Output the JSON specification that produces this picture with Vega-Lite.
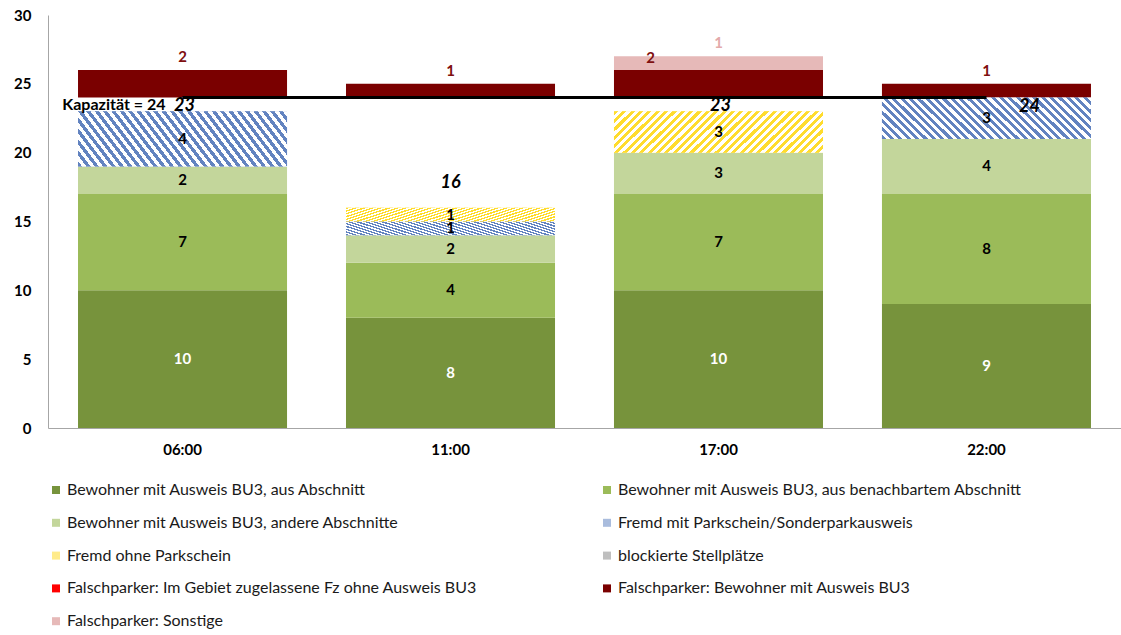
{
"$schema":"https://vega.github.io/schema/vega-lite/v6.json",
"width":1073,"height":413,
"autosize":{"type":"none"},
"padding":{"left":48,"top":15,"right":0,"bottom":207},
"config":{"view":{"stroke":null},"font":"Lato",
 "axis":{"grid":false,"ticks":false,"domainColor":"#A6A6A6","domainWidth":1,"labelFont":"Lato","labelFontSize":15,"labelFontWeight":"bold","labelColor":"#000000","title":null},
 "axisY":{"tickCount":6,"labelPadding":17}},
"datasets":{
 "occ":[
  {"time":"06:00","cat":"Bewohner mit Ausweis BU3, aus Abschnitt","order":1,"n":10},
  {"time":"06:00","cat":"Bewohner mit Ausweis BU3, aus benachbartem Abschnitt","order":2,"n":7},
  {"time":"06:00","cat":"Bewohner mit Ausweis BU3, andere Abschnitte","order":3,"n":2},
  {"time":"06:00","cat":"Fremd mit Parkschein/Sonderparkausweis","order":4,"n":4},
  {"time":"06:00","cat":"Fremd ohne Parkschein","order":5,"n":0},
  {"time":"06:00","cat":"blockierte Stellplätze","order":6,"n":0},
  {"time":"06:00","cat":"frei","order":7,"n":1},
  {"time":"06:00","cat":"Falschparker: Im Gebiet zugelassene Fz ohne Ausweis BU3","order":8,"n":0},
  {"time":"06:00","cat":"Falschparker: Bewohner mit Ausweis BU3","order":9,"n":2},
  {"time":"06:00","cat":"Falschparker: Sonstige","order":10,"n":0},
  {"time":"11:00","cat":"Bewohner mit Ausweis BU3, aus Abschnitt","order":1,"n":8},
  {"time":"11:00","cat":"Bewohner mit Ausweis BU3, aus benachbartem Abschnitt","order":2,"n":4},
  {"time":"11:00","cat":"Bewohner mit Ausweis BU3, andere Abschnitte","order":3,"n":2},
  {"time":"11:00","cat":"Fremd mit Parkschein/Sonderparkausweis","order":4,"n":1},
  {"time":"11:00","cat":"Fremd ohne Parkschein","order":5,"n":1},
  {"time":"11:00","cat":"blockierte Stellplätze","order":6,"n":0},
  {"time":"11:00","cat":"frei","order":7,"n":8},
  {"time":"11:00","cat":"Falschparker: Im Gebiet zugelassene Fz ohne Ausweis BU3","order":8,"n":0},
  {"time":"11:00","cat":"Falschparker: Bewohner mit Ausweis BU3","order":9,"n":1},
  {"time":"11:00","cat":"Falschparker: Sonstige","order":10,"n":0},
  {"time":"17:00","cat":"Bewohner mit Ausweis BU3, aus Abschnitt","order":1,"n":10},
  {"time":"17:00","cat":"Bewohner mit Ausweis BU3, aus benachbartem Abschnitt","order":2,"n":7},
  {"time":"17:00","cat":"Bewohner mit Ausweis BU3, andere Abschnitte","order":3,"n":3},
  {"time":"17:00","cat":"Fremd mit Parkschein/Sonderparkausweis","order":4,"n":0},
  {"time":"17:00","cat":"Fremd ohne Parkschein","order":5,"n":3},
  {"time":"17:00","cat":"blockierte Stellplätze","order":6,"n":0},
  {"time":"17:00","cat":"frei","order":7,"n":1},
  {"time":"17:00","cat":"Falschparker: Im Gebiet zugelassene Fz ohne Ausweis BU3","order":8,"n":0},
  {"time":"17:00","cat":"Falschparker: Bewohner mit Ausweis BU3","order":9,"n":2},
  {"time":"17:00","cat":"Falschparker: Sonstige","order":10,"n":1},
  {"time":"22:00","cat":"Bewohner mit Ausweis BU3, aus Abschnitt","order":1,"n":9},
  {"time":"22:00","cat":"Bewohner mit Ausweis BU3, aus benachbartem Abschnitt","order":2,"n":8},
  {"time":"22:00","cat":"Bewohner mit Ausweis BU3, andere Abschnitte","order":3,"n":4},
  {"time":"22:00","cat":"Fremd mit Parkschein/Sonderparkausweis","order":4,"n":3},
  {"time":"22:00","cat":"Fremd ohne Parkschein","order":5,"n":0},
  {"time":"22:00","cat":"blockierte Stellplätze","order":6,"n":0},
  {"time":"22:00","cat":"frei","order":7,"n":0},
  {"time":"22:00","cat":"Falschparker: Im Gebiet zugelassene Fz ohne Ausweis BU3","order":8,"n":0},
  {"time":"22:00","cat":"Falschparker: Bewohner mit Ausweis BU3","order":9,"n":1},
  {"time":"22:00","cat":"Falschparker: Sonstige","order":10,"n":0}
 ],
 "cap":[
  {"time":"06:00","cap":24,"label":"Kapazität = 24"},
  {"time":"11:00","cap":24},
  {"time":"17:00","cap":24},
  {"time":"22:00","cap":24}
 ]
},
"data":{"name":"occ"},
"encoding":{"x":{"field":"time","type":"nominal","sort":["06:00","11:00","17:00","22:00"],"scale":{"type":"band","paddingInner":0.22,"paddingOuter":0.112},"axis":{"labelAngle":0,"labelPadding":14,"title":null}}},
"layer":[
 {"transform":[{"stack":"n","groupby":["time"],"sort":[{"field":"order","order":"ascending"}],"as":["y0","y1"]},{"filter":"datum.n > 0"}],
  "layer":[
   {"transform":[{"filter":"datum.cat !== 'frei'"}],
    "mark":{"type":"bar"},
    "encoding":{
     "y":{"field":"y0","type":"quantitative","scale":{"domain":[0,30],"nice":false}},
     "y2":{"field":"y1"},
     "color":{"field":"cat","type":"nominal",
      "scale":{"domain":["Bewohner mit Ausweis BU3, aus Abschnitt","Bewohner mit Ausweis BU3, andere Abschnitte","Fremd ohne Parkschein","Falschparker: Im Gebiet zugelassene Fz ohne Ausweis BU3","Falschparker: Sonstige","Bewohner mit Ausweis BU3, aus benachbartem Abschnitt","Fremd mit Parkschein/Sonderparkausweis","blockierte Stellplätze","Falschparker: Bewohner mit Ausweis BU3"],
       "range":["#77933C","#C3D69B","#FFEB8A","#FF0000","#E6B9B8","#9BBB59","#A9BCDD","#BFBFBF","#7A0000"]},
      "legend":{"orient":"none","legendX":0,"legendY":467,"columns":2,"title":null,"symbolType":"square","symbolSize":64,"symbolStrokeWidth":0,"labelFontSize":16,"labelFont":"Lato","labelColor":"#1a1a1a","labelLimit":700,"rowPadding":16.8,"columnPadding":122,"labelOffset":3,"padding":0}}
    }},
   {"transform":[{"filter":"datum.order === 4"}],
    "mark":{"type":"bar","fill":{"gradient":"linear","x1":0,"y1":1,"x2":1.154,"y2":0.769,"stops":[
{"offset":0,"color":"#6283C0"},
{"offset":0.0167,"color":"#6283C0"},{"offset":0.0167,"color":"#ffffff"},
{"offset":0.0333,"color":"#ffffff"},{"offset":0.0333,"color":"#6283C0"},
{"offset":0.05,"color":"#6283C0"},{"offset":0.05,"color":"#ffffff"},
{"offset":0.0667,"color":"#ffffff"},{"offset":0.0667,"color":"#6283C0"},
{"offset":0.0833,"color":"#6283C0"},{"offset":0.0833,"color":"#ffffff"},
{"offset":0.1,"color":"#ffffff"},{"offset":0.1,"color":"#6283C0"},
{"offset":0.1167,"color":"#6283C0"},{"offset":0.1167,"color":"#ffffff"},
{"offset":0.1333,"color":"#ffffff"},{"offset":0.1333,"color":"#6283C0"},
{"offset":0.15,"color":"#6283C0"},{"offset":0.15,"color":"#ffffff"},
{"offset":0.1667,"color":"#ffffff"},{"offset":0.1667,"color":"#6283C0"},
{"offset":0.1833,"color":"#6283C0"},{"offset":0.1833,"color":"#ffffff"},
{"offset":0.2,"color":"#ffffff"},{"offset":0.2,"color":"#6283C0"},
{"offset":0.2167,"color":"#6283C0"},{"offset":0.2167,"color":"#ffffff"},
{"offset":0.2333,"color":"#ffffff"},{"offset":0.2333,"color":"#6283C0"},
{"offset":0.25,"color":"#6283C0"},{"offset":0.25,"color":"#ffffff"},
{"offset":0.2667,"color":"#ffffff"},{"offset":0.2667,"color":"#6283C0"},
{"offset":0.2833,"color":"#6283C0"},{"offset":0.2833,"color":"#ffffff"},
{"offset":0.3,"color":"#ffffff"},{"offset":0.3,"color":"#6283C0"},
{"offset":0.3167,"color":"#6283C0"},{"offset":0.3167,"color":"#ffffff"},
{"offset":0.3333,"color":"#ffffff"},{"offset":0.3333,"color":"#6283C0"},
{"offset":0.35,"color":"#6283C0"},{"offset":0.35,"color":"#ffffff"},
{"offset":0.3667,"color":"#ffffff"},{"offset":0.3667,"color":"#6283C0"},
{"offset":0.3833,"color":"#6283C0"},{"offset":0.3833,"color":"#ffffff"},
{"offset":0.4,"color":"#ffffff"},{"offset":0.4,"color":"#6283C0"},
{"offset":0.4167,"color":"#6283C0"},{"offset":0.4167,"color":"#ffffff"},
{"offset":0.4333,"color":"#ffffff"},{"offset":0.4333,"color":"#6283C0"},
{"offset":0.45,"color":"#6283C0"},{"offset":0.45,"color":"#ffffff"},
{"offset":0.4667,"color":"#ffffff"},{"offset":0.4667,"color":"#6283C0"},
{"offset":0.4833,"color":"#6283C0"},{"offset":0.4833,"color":"#ffffff"},
{"offset":0.5,"color":"#ffffff"},{"offset":0.5,"color":"#6283C0"},
{"offset":0.5167,"color":"#6283C0"},{"offset":0.5167,"color":"#ffffff"},
{"offset":0.5333,"color":"#ffffff"},{"offset":0.5333,"color":"#6283C0"},
{"offset":0.55,"color":"#6283C0"},{"offset":0.55,"color":"#ffffff"},
{"offset":0.5667,"color":"#ffffff"},{"offset":0.5667,"color":"#6283C0"},
{"offset":0.5833,"color":"#6283C0"},{"offset":0.5833,"color":"#ffffff"},
{"offset":0.6,"color":"#ffffff"},{"offset":0.6,"color":"#6283C0"},
{"offset":0.6167,"color":"#6283C0"},{"offset":0.6167,"color":"#ffffff"},
{"offset":0.6333,"color":"#ffffff"},{"offset":0.6333,"color":"#6283C0"},
{"offset":0.65,"color":"#6283C0"},{"offset":0.65,"color":"#ffffff"},
{"offset":0.6667,"color":"#ffffff"},{"offset":0.6667,"color":"#6283C0"},
{"offset":0.6833,"color":"#6283C0"},{"offset":0.6833,"color":"#ffffff"},
{"offset":0.7,"color":"#ffffff"},{"offset":0.7,"color":"#6283C0"},
{"offset":0.7167,"color":"#6283C0"},{"offset":0.7167,"color":"#ffffff"},
{"offset":0.7333,"color":"#ffffff"},{"offset":0.7333,"color":"#6283C0"},
{"offset":0.75,"color":"#6283C0"},{"offset":0.75,"color":"#ffffff"},
{"offset":0.7667,"color":"#ffffff"},{"offset":0.7667,"color":"#6283C0"},
{"offset":0.7833,"color":"#6283C0"},{"offset":0.7833,"color":"#ffffff"},
{"offset":0.8,"color":"#ffffff"},{"offset":0.8,"color":"#6283C0"},
{"offset":0.8167,"color":"#6283C0"},{"offset":0.8167,"color":"#ffffff"},
{"offset":0.8333,"color":"#ffffff"},{"offset":0.8333,"color":"#6283C0"},
{"offset":0.85,"color":"#6283C0"},{"offset":0.85,"color":"#ffffff"},
{"offset":0.8667,"color":"#ffffff"},{"offset":0.8667,"color":"#6283C0"},
{"offset":0.8833,"color":"#6283C0"},{"offset":0.8833,"color":"#ffffff"},
{"offset":0.9,"color":"#ffffff"},{"offset":0.9,"color":"#6283C0"},
{"offset":0.9167,"color":"#6283C0"},{"offset":0.9167,"color":"#ffffff"},
{"offset":0.9333,"color":"#ffffff"},{"offset":0.9333,"color":"#6283C0"},
{"offset":0.95,"color":"#6283C0"},{"offset":0.95,"color":"#ffffff"},
{"offset":0.9667,"color":"#ffffff"},{"offset":0.9667,"color":"#6283C0"},
{"offset":0.9833,"color":"#6283C0"},{"offset":0.9833,"color":"#ffffff"},
{"offset":1,"color":"#ffffff"}]}},
    "encoding":{"y":{"field":"y0","type":"quantitative"},"y2":{"field":"y1"}}},
   {"transform":[{"filter":"datum.order === 5"}],
    "mark":{"type":"bar","fill":{"gradient":"linear","x1":0,"y1":0,"x2":1.154,"y2":0.231,"stops":[
{"offset":0,"color":"#FFDC2E"},
{"offset":0.0167,"color":"#FFDC2E"},{"offset":0.0167,"color":"#ffffff"},
{"offset":0.0333,"color":"#ffffff"},{"offset":0.0333,"color":"#FFDC2E"},
{"offset":0.05,"color":"#FFDC2E"},{"offset":0.05,"color":"#ffffff"},
{"offset":0.0667,"color":"#ffffff"},{"offset":0.0667,"color":"#FFDC2E"},
{"offset":0.0833,"color":"#FFDC2E"},{"offset":0.0833,"color":"#ffffff"},
{"offset":0.1,"color":"#ffffff"},{"offset":0.1,"color":"#FFDC2E"},
{"offset":0.1167,"color":"#FFDC2E"},{"offset":0.1167,"color":"#ffffff"},
{"offset":0.1333,"color":"#ffffff"},{"offset":0.1333,"color":"#FFDC2E"},
{"offset":0.15,"color":"#FFDC2E"},{"offset":0.15,"color":"#ffffff"},
{"offset":0.1667,"color":"#ffffff"},{"offset":0.1667,"color":"#FFDC2E"},
{"offset":0.1833,"color":"#FFDC2E"},{"offset":0.1833,"color":"#ffffff"},
{"offset":0.2,"color":"#ffffff"},{"offset":0.2,"color":"#FFDC2E"},
{"offset":0.2167,"color":"#FFDC2E"},{"offset":0.2167,"color":"#ffffff"},
{"offset":0.2333,"color":"#ffffff"},{"offset":0.2333,"color":"#FFDC2E"},
{"offset":0.25,"color":"#FFDC2E"},{"offset":0.25,"color":"#ffffff"},
{"offset":0.2667,"color":"#ffffff"},{"offset":0.2667,"color":"#FFDC2E"},
{"offset":0.2833,"color":"#FFDC2E"},{"offset":0.2833,"color":"#ffffff"},
{"offset":0.3,"color":"#ffffff"},{"offset":0.3,"color":"#FFDC2E"},
{"offset":0.3167,"color":"#FFDC2E"},{"offset":0.3167,"color":"#ffffff"},
{"offset":0.3333,"color":"#ffffff"},{"offset":0.3333,"color":"#FFDC2E"},
{"offset":0.35,"color":"#FFDC2E"},{"offset":0.35,"color":"#ffffff"},
{"offset":0.3667,"color":"#ffffff"},{"offset":0.3667,"color":"#FFDC2E"},
{"offset":0.3833,"color":"#FFDC2E"},{"offset":0.3833,"color":"#ffffff"},
{"offset":0.4,"color":"#ffffff"},{"offset":0.4,"color":"#FFDC2E"},
{"offset":0.4167,"color":"#FFDC2E"},{"offset":0.4167,"color":"#ffffff"},
{"offset":0.4333,"color":"#ffffff"},{"offset":0.4333,"color":"#FFDC2E"},
{"offset":0.45,"color":"#FFDC2E"},{"offset":0.45,"color":"#ffffff"},
{"offset":0.4667,"color":"#ffffff"},{"offset":0.4667,"color":"#FFDC2E"},
{"offset":0.4833,"color":"#FFDC2E"},{"offset":0.4833,"color":"#ffffff"},
{"offset":0.5,"color":"#ffffff"},{"offset":0.5,"color":"#FFDC2E"},
{"offset":0.5167,"color":"#FFDC2E"},{"offset":0.5167,"color":"#ffffff"},
{"offset":0.5333,"color":"#ffffff"},{"offset":0.5333,"color":"#FFDC2E"},
{"offset":0.55,"color":"#FFDC2E"},{"offset":0.55,"color":"#ffffff"},
{"offset":0.5667,"color":"#ffffff"},{"offset":0.5667,"color":"#FFDC2E"},
{"offset":0.5833,"color":"#FFDC2E"},{"offset":0.5833,"color":"#ffffff"},
{"offset":0.6,"color":"#ffffff"},{"offset":0.6,"color":"#FFDC2E"},
{"offset":0.6167,"color":"#FFDC2E"},{"offset":0.6167,"color":"#ffffff"},
{"offset":0.6333,"color":"#ffffff"},{"offset":0.6333,"color":"#FFDC2E"},
{"offset":0.65,"color":"#FFDC2E"},{"offset":0.65,"color":"#ffffff"},
{"offset":0.6667,"color":"#ffffff"},{"offset":0.6667,"color":"#FFDC2E"},
{"offset":0.6833,"color":"#FFDC2E"},{"offset":0.6833,"color":"#ffffff"},
{"offset":0.7,"color":"#ffffff"},{"offset":0.7,"color":"#FFDC2E"},
{"offset":0.7167,"color":"#FFDC2E"},{"offset":0.7167,"color":"#ffffff"},
{"offset":0.7333,"color":"#ffffff"},{"offset":0.7333,"color":"#FFDC2E"},
{"offset":0.75,"color":"#FFDC2E"},{"offset":0.75,"color":"#ffffff"},
{"offset":0.7667,"color":"#ffffff"},{"offset":0.7667,"color":"#FFDC2E"},
{"offset":0.7833,"color":"#FFDC2E"},{"offset":0.7833,"color":"#ffffff"},
{"offset":0.8,"color":"#ffffff"},{"offset":0.8,"color":"#FFDC2E"},
{"offset":0.8167,"color":"#FFDC2E"},{"offset":0.8167,"color":"#ffffff"},
{"offset":0.8333,"color":"#ffffff"},{"offset":0.8333,"color":"#FFDC2E"},
{"offset":0.85,"color":"#FFDC2E"},{"offset":0.85,"color":"#ffffff"},
{"offset":0.8667,"color":"#ffffff"},{"offset":0.8667,"color":"#FFDC2E"},
{"offset":0.8833,"color":"#FFDC2E"},{"offset":0.8833,"color":"#ffffff"},
{"offset":0.9,"color":"#ffffff"},{"offset":0.9,"color":"#FFDC2E"},
{"offset":0.9167,"color":"#FFDC2E"},{"offset":0.9167,"color":"#ffffff"},
{"offset":0.9333,"color":"#ffffff"},{"offset":0.9333,"color":"#FFDC2E"},
{"offset":0.95,"color":"#FFDC2E"},{"offset":0.95,"color":"#ffffff"},
{"offset":0.9667,"color":"#ffffff"},{"offset":0.9667,"color":"#FFDC2E"},
{"offset":0.9833,"color":"#FFDC2E"},{"offset":0.9833,"color":"#ffffff"},
{"offset":1,"color":"#ffffff"}]}},
    "encoding":{"y":{"field":"y0","type":"quantitative"},"y2":{"field":"y1"}}},
   {"transform":[{"filter":"datum.order <= 5"},{"fold":["y0","y1"],"as":["k","yv"]}],
    "mark":{"type":"text","fontWeight":"bold","fontSize":15,"font":"Lato","baseline":"middle"},
    "encoding":{"y":{"aggregate":"mean","field":"yv","type":"quantitative"},"text":{"field":"n","type":"quantitative"},"detail":{"field":"cat"},
     "color":{"condition":{"test":"datum.cat === 'Bewohner mit Ausweis BU3, aus Abschnitt'","value":"#ffffff"},"value":"#000000"}}},
   {"transform":[{"filter":"datum.order >= 8 && !(datum.time === '17:00' && datum.order === 9)"}],
    "mark":{"type":"text","fontWeight":"bold","fontSize":15,"font":"Lato","baseline":"middle","dy":-13},
    "encoding":{"y":{"field":"y1","type":"quantitative"},"text":{"field":"n","type":"quantitative"},
     "color":{"condition":{"test":"datum.order === 10","value":"#E3AAAA"},"value":"#7F1010"}}},
   {"transform":[{"filter":"datum.time === '17:00' && datum.order === 9"}],
    "mark":{"type":"text","fontWeight":"bold","fontSize":15,"font":"Lato","baseline":"middle","dy":-12,"dx":-68,"color":"#7F1010"},
    "encoding":{"y":{"field":"y1","type":"quantitative"},"text":{"field":"n","type":"quantitative"}}}
  ]},
 {"data":{"name":"cap"},
  "mark":{"type":"line","color":"#000000","strokeWidth":3},
  "encoding":{"y":{"field":"cap","type":"quantitative"}}},
 {"data":{"name":"cap"},
  "transform":[{"filter":"isValid(datum.label)"}],
  "mark":{"type":"text","fontWeight":"bold","fontSize":16,"font":"Lato","align":"right","baseline":"middle","dx":-17,"dy":7,"color":"#000000"},
  "encoding":{"y":{"field":"cap","type":"quantitative"},"text":{"field":"label"}}},
 {"transform":[{"filter":"datum.order <= 6"},{"aggregate":[{"op":"sum","field":"n","as":"total"}],"groupby":["time"]}],
  "layer":[
   {"transform":[{"filter":"datum.time === '06:00' || datum.time === '17:00'"}],
    "mark":{"type":"text","fontWeight":"bold","fontStyle":"italic","fontSize":18,"font":"Lato","baseline":"middle","dy":-5,"dx":2,"color":"#000000"},
    "encoding":{"y":{"field":"total","type":"quantitative"},"text":{"field":"total","type":"quantitative"}}},
   {"transform":[{"filter":"datum.time === '11:00'"}],
    "mark":{"type":"text","fontWeight":"bold","fontStyle":"italic","fontSize":18,"font":"Lato","baseline":"middle","dy":-25,"color":"#000000"},
    "encoding":{"y":{"field":"total","type":"quantitative"},"text":{"field":"total","type":"quantitative"}}},
   {"transform":[{"filter":"datum.time === '22:00'"}],
    "mark":{"type":"text","fontWeight":"bold","fontStyle":"italic","fontSize":18,"font":"Lato","baseline":"middle","dy":9,"dx":43,"color":"#000000"},
    "encoding":{"y":{"field":"total","type":"quantitative"},"text":{"field":"total","type":"quantitative"}}}
  ]}
]
}
